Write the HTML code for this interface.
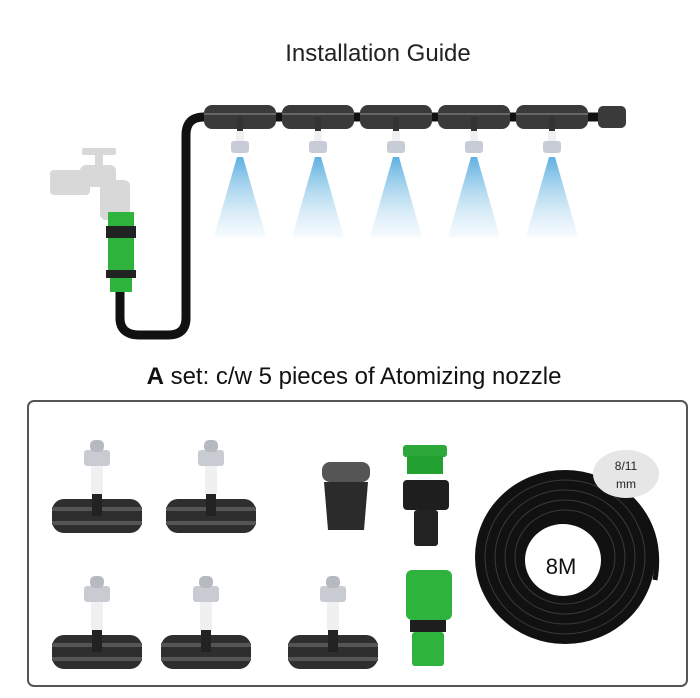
<!DOCTYPE html>
<html><head><style>body{margin:0;background:#fff}svg{display:block}text{font-family:"Liberation Sans",sans-serif}</style></head><body>
<svg width="700" height="698" viewBox="0 0 700 698" xmlns="http://www.w3.org/2000/svg">
<defs>
<linearGradient id="spray" x1="0" y1="0" x2="0" y2="1"><stop offset="0" stop-color="#5fb0e0"/><stop offset="1" stop-color="#e6f3fb" stop-opacity="0.4"/></linearGradient>
<g id="tee">
<rect x="-45" y="-17" width="90" height="34" rx="12" fill="#2e2e2e"/>
<rect x="-45" y="-9" width="90" height="4" fill="#555"/>
<rect x="-45" y="5" width="90" height="4" fill="#555"/>
<rect x="-5" y="-24" width="10" height="24" fill="#222"/>
<rect x="-6" y="-50" width="12" height="28" fill="#eef0f2"/>
<rect x="-13" y="-66" width="26" height="16" rx="3" fill="#c8ccd2"/>
<rect x="-7" y="-76" width="14" height="12" rx="5" fill="#b6bac0"/>
</g>
<g id="stee">
<rect x="-36" y="-12" width="72" height="24" rx="8" fill="#3a3a3a"/>
<rect x="-36" y="-4" width="72" height="2" fill="#666"/>
<rect x="-3" y="0" width="6" height="14" fill="#333"/>
<rect x="-4" y="14" width="8" height="12" fill="#eef0f2"/>
<rect x="-9" y="24" width="18" height="12" rx="3" fill="#c8ccd6"/>
<polygon points="-3,40 3,40 26,120 -26,120" fill="url(#spray)"/>
</g>
</defs>
<text x="378" y="61" font-size="24" text-anchor="middle" fill="#222">Installation Guide</text>
<g fill="#d8d8d8">
<rect x="82" y="148" width="34" height="7" rx="2"/>
<rect x="95" y="152" width="8" height="16"/>
<rect x="80" y="165" width="36" height="22" rx="6"/>
<rect x="50" y="170" width="40" height="25" rx="4"/>
<rect x="100" y="180" width="30" height="40" rx="6"/>
</g>
<path d="M120 280 L120 318 Q120 335 140 335 L168 335 Q186 335 186 318 L186 135 Q186 117 204 117 L620 117" fill="none" stroke="#111" stroke-width="9"/>
<rect x="108" y="212" width="26" height="14" fill="#2eb33c"/>
<rect x="106" y="226" width="30" height="12" fill="#222"/>
<rect x="108" y="238" width="26" height="32" fill="#2eb33c"/>
<rect x="106" y="270" width="30" height="8" fill="#222"/>
<rect x="110" y="278" width="22" height="14" fill="#2eb33c"/>
<use href="#stee" transform="translate(240,117)"/>
<use href="#stee" transform="translate(318,117)"/>
<use href="#stee" transform="translate(396,117)"/>
<use href="#stee" transform="translate(474,117)"/>
<use href="#stee" transform="translate(552,117)"/>
<rect x="598" y="106" width="28" height="22" rx="5" fill="#3a3a3a"/>
<text x="354" y="384" font-size="24" text-anchor="middle" fill="#111"><tspan font-weight="bold">A</tspan> set: c/w 5 pieces of Atomizing nozzle</text>
<rect x="28" y="401" width="659" height="285" rx="6" fill="#fff" stroke="#555" stroke-width="2"/>
<use href="#tee" transform="translate(97,516)"/>
<use href="#tee" transform="translate(211,516)"/>
<use href="#tee" transform="translate(97,652)"/>
<use href="#tee" transform="translate(206,652)"/>
<use href="#tee" transform="translate(333,652)"/>
<rect x="322" y="462" width="48" height="20" rx="8" fill="#555"/>
<path d="M324 482 L368 482 L364 530 L328 530 Z" fill="#2b2b2b"/>
<rect x="403" y="445" width="44" height="12" rx="3" fill="#2da83a"/>
<rect x="407" y="456" width="36" height="18" fill="#22a030"/>
<rect x="403" y="480" width="46" height="30" rx="4" fill="#1e1e1e"/>
<rect x="414" y="510" width="24" height="36" rx="3" fill="#222"/>
<rect x="406" y="570" width="46" height="50" rx="6" fill="#2eb33c"/>
<rect x="410" y="620" width="36" height="12" fill="#1e1e1e"/>
<rect x="412" y="632" width="32" height="34" rx="3" fill="#2eb33c"/>
<ellipse cx="565" cy="557" rx="90" ry="87" fill="#111"/>
<g fill="none" stroke="#3a3a3a" stroke-width="1">
<ellipse cx="565" cy="557" rx="80" ry="77"/>
<ellipse cx="565" cy="557" rx="70" ry="67"/>
<ellipse cx="565" cy="557" rx="60" ry="57"/>
<ellipse cx="565" cy="557" rx="50" ry="47"/>
</g>
<ellipse cx="563" cy="560" rx="38" ry="36" fill="#fff"/>
<path d="M615 485 Q665 520 655 580" fill="none" stroke="#111" stroke-width="5"/>
<text x="561" y="574" font-size="22" text-anchor="middle" fill="#111">8M</text>
<ellipse cx="626" cy="474" rx="33" ry="24" fill="#e6e6e6"/>
<text x="626" y="470" font-size="12" text-anchor="middle" fill="#222">8/11</text>
<text x="626" y="488" font-size="12" text-anchor="middle" fill="#222">mm</text>
</svg>
</body></html>
